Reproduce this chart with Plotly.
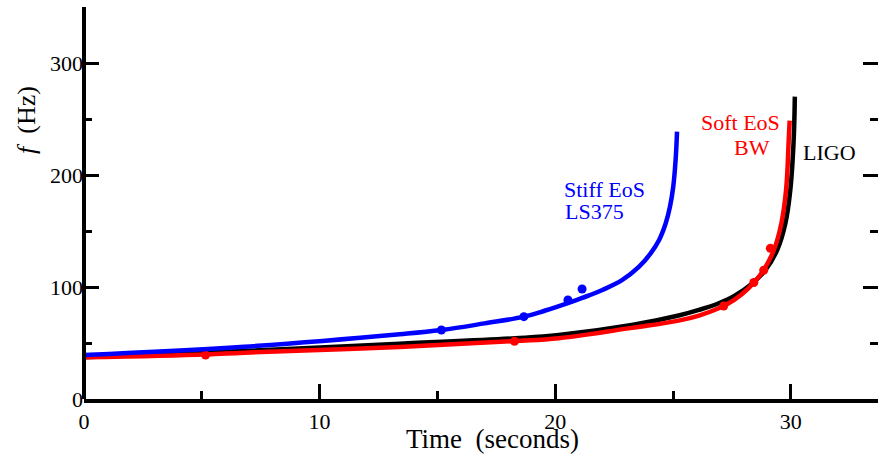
import plotly.graph_objects as go

# ---- data ----
ligo_t = [0, 6.8, 13.4, 18.3, 20.15, 23.25, 25.24, 26.1, 26.94, 27.6, 28.35, 28.92, 29.42, 29.77, 29.98, 30.12, 30.17]
ligo_f = [37.2, 42.9, 49.3, 54.2, 57.1, 66.0, 74.5, 79.5, 85.5, 92.0, 103.0, 115.0, 133.0, 157.0, 187.0, 231.0, 270.0]

bw_t = [0, 5.16, 6.8, 13.4, 18.27, 20.15, 23.25, 25.24, 26.1, 26.94, 27.6, 28.21, 28.78, 29.28, 29.6, 29.8, 29.91, 29.95]
bw_f = [37.2, 39.8, 41.4, 46.4, 51.7, 54.3, 63.5, 70.0, 74.5, 81.0, 88.5, 99.0, 113.0, 133.0, 157.0, 187.0, 231.0, 248.5]

ls_t = [0, 6.8, 13.4, 15.17, 17.0, 18.67, 19.58, 20.72, 21.44, 22.0, 22.85, 23.56, 24.05, 24.41, 24.69, 24.87, 25.01, 25.11, 25.17]
ls_f = [39.3, 46.7, 57.8, 61.6, 67.5, 73.5, 79.0, 87.0, 92.5, 97.3, 106.3, 118.1, 130.1, 142.0, 156.9, 171.7, 189.6, 213.4, 238.7]

bw_pts_t = [5.16, 18.27, 27.15, 28.43, 28.85, 29.13]
bw_pts_f = [39.3, 51.5, 83.0, 104.0, 115.0, 134.5]

ls_pts_t = [15.17, 18.67, 20.54, 21.14]
ls_pts_f = [61.6, 73.5, 88.4, 98.2]

x_range = [0, 33.7]
y_range = [0, 350]
x_major = [0, 10, 20, 30]
y_major = [0, 100, 200, 300]

FONT = "Liberation Serif"
LW = 4.5
SM = 1.1

fig = go.Figure()
fig.add_trace(go.Scatter(x=ligo_t, y=ligo_f, mode="lines", line=dict(color="black", width=LW, shape="spline", smoothing=SM), showlegend=False))
fig.add_trace(go.Scatter(x=bw_t, y=bw_f, mode="lines", line=dict(color="#ff0000", width=LW, shape="spline", smoothing=SM), showlegend=False))
fig.add_trace(go.Scatter(x=bw_pts_t, y=bw_pts_f, mode="markers", marker=dict(color="#ff0000", size=9), showlegend=False))
fig.add_trace(go.Scatter(x=ls_t, y=ls_f, mode="lines", line=dict(color="#0000ff", width=LW, shape="spline", smoothing=SM), showlegend=False))
fig.add_trace(go.Scatter(x=ls_pts_t, y=ls_pts_f, mode="markers", marker=dict(color="#0000ff", size=9), showlegend=False))

tickfont = dict(family=FONT, size=22, color="black")
fig.update_xaxes(range=x_range, tickvals=x_major, ticktext=[str(v) for v in x_major],
                 ticks="inside", ticklen=15, tickwidth=2.5, tickcolor="black",
                 minor=dict(ticks="inside", ticklen=8, tickwidth=2.5, tickcolor="black", dtick=5, tick0=0),
                 showline=True, linecolor="black", linewidth=4, showgrid=False, zeroline=False,
                 tickfont=tickfont, mirror=False)
fig.update_yaxes(range=y_range, tickvals=y_major, ticktext=[str(v) for v in y_major],
                 ticks="inside", ticklen=15, tickwidth=2.5, tickcolor="black",
                 minor=dict(ticks="inside", ticklen=8, tickwidth=2.5, tickcolor="black", dtick=50, tick0=0),
                 showline=False, showgrid=False, zeroline=False, mirror="ticks",
                 tickfont=tickfont)

fig.add_shape(type="line", xref="paper", yref="paper", x0=0, x1=0, y0=0, y1=1,
              line=dict(color="black", width=4))

ann = [
    dict(text="Stiff EoS", x=20.3, y=187.5, color="#0000ff"),
    dict(text="LS375", x=20.33, y=167.5, color="#0000ff"),
    dict(text="Soft EoS", x=26.1, y=246.9, color="#ff0000"),
    dict(text="BW", x=27.5, y=225.0, color="#ff0000"),
    dict(text="LIGO", x=30.45, y=220.0, color="black"),
]
for a in ann:
    fig.add_annotation(text=a["text"], x=a["x"], y=a["y"], xref="x", yref="y",
                       xanchor="left", yanchor="middle", showarrow=False,
                       font=dict(family=FONT, size=22, color=a["color"]))

fig.add_annotation(text="Time&nbsp; (seconds)", x=0.514, y=-0.102, xref="paper", yref="paper",
                   xanchor="center", yanchor="middle", showarrow=False,
                   font=dict(family=FONT, size=27, color="black"))
fig.add_annotation(text="<i>f</i>&nbsp; (Hz)", x=-0.0718, y=0.712, xref="paper", yref="paper",
                   xanchor="center", yanchor="middle", showarrow=False, textangle=-90,
                   font=dict(family=FONT, size=26, color="black"))

fig.update_layout(width=878, height=454, margin=dict(l=84, r=0, t=7, b=55),
                  plot_bgcolor="white", paper_bgcolor="white")

fig.write_html("out.html", config={"displayModeBar": False},
               post_script="document.body.style.margin='0';document.body.style.overflow='hidden';")
